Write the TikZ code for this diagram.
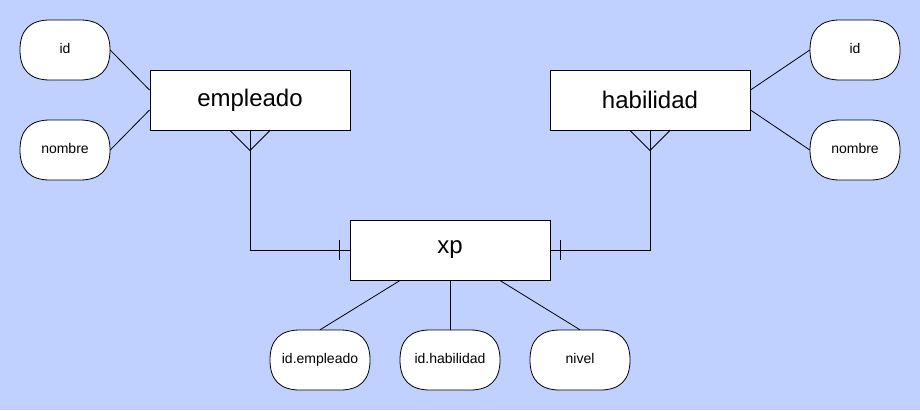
\documentclass[tikz,border=0pt]{standalone}
\usepackage{fontspec}
\setmainfont{Liberation Sans}
\definecolor{bgblue}{RGB}{192,208,255}
\newcommand\attrbg[3]{% center x, center y, half width
  \filldraw[draw=black, fill=white, line width=0.8pt]
    (#1-#3+30,#2-30) -- (#1+#3-30,#2-30)
    .. controls (#1+#3-10,#2-30) and (#1+#3,#2-20) .. (#1+#3,#2)
    .. controls (#1+#3,#2+20) and (#1+#3-10,#2+30) .. (#1+#3-30,#2+30)
    -- (#1-#3+30,#2+30)
    .. controls (#1-#3+10,#2+30) and (#1-#3,#2+20) .. (#1-#3,#2)
    .. controls (#1-#3,#2-20) and (#1-#3+10,#2-30) .. (#1-#3+30,#2-30) -- cycle;}
\tikzset{
  entity/.style={draw=black, fill=white, line width=1pt, minimum width=200pt, minimum height=60pt, inner sep=0pt, font=\fontsize{24}{28}\selectfont},
  attr/.style={inner sep=0pt, minimum width=90pt, minimum height=60pt, text height=12pt, text depth=6pt, font=\fontsize{14}{16}\selectfont},
  attrw/.style={attr, minimum width=100pt},
  link/.style={draw=black, line width=0.8pt},
  rel/.style={draw=black, line width=1pt}
}
\begin{document}
\begin{tikzpicture}[x=1pt, y=-1pt]
\fill[bgblue] (0,0) rectangle (920,410);
\useasboundingbox (0,0) rectangle (920,410);
\node[entity] (emp) at (250,100) {empleado};
\node[entity] (hab) at (650,100) {habilidad};
\node[entity] (xp) at (450,250) {xp};
\attrbg{65}{50}{45}
\attrbg{65}{150}{45}
\attrbg{855}{50}{45}
\attrbg{855}{150}{45}
\attrbg{320}{360}{50}
\attrbg{450}{360}{50}
\attrbg{580}{360}{50}
\node[attr] (idL) at (65,50) {id};
\node[attr] (nomL) at (65,150) {nombre};
\node[attr] (idR) at (855,50) {id};
\node[attr] (nomR) at (855,150) {nombre};
\node[attrw] (idE) at (320,360) {id.empleado};
\node[attrw] (idH) at (450,360) {id.habilidad};
\node[attrw] (niv) at (580,360) {nivel};
% attribute links
\draw[link] (idL.east) -- ([yshift=10pt]emp.west);
\draw[link] (nomL.east) -- ([yshift=-10pt]emp.west);
\draw[link] (idR.west) -- ([yshift=10pt]hab.east);
\draw[link] (nomR.west) -- ([yshift=-10pt]hab.east);
\draw[link] ([xshift=-50pt]xp.south) -- (idE.north);
\draw[link] (xp.south) -- (idH.north);
\draw[link] ([xshift=50pt]xp.south) -- (niv.north);
% relationships
\draw[rel] (emp.south) |- (xp.west);
\draw[rel] ([xshift=-20pt]emp.south) -- ([yshift=-20pt]emp.south) -- ([xshift=20pt]emp.south);
\draw[rel] ([xshift=-10pt,yshift=10pt]xp.west) -- ([xshift=-10pt,yshift=-10pt]xp.west);
\draw[rel] (hab.south) |- (xp.east);
\draw[rel] ([xshift=-20pt]hab.south) -- ([yshift=-20pt]hab.south) -- ([xshift=20pt]hab.south);
\draw[rel] ([xshift=10pt,yshift=10pt]xp.east) -- ([xshift=10pt,yshift=-10pt]xp.east);
\end{tikzpicture}
\end{document}
